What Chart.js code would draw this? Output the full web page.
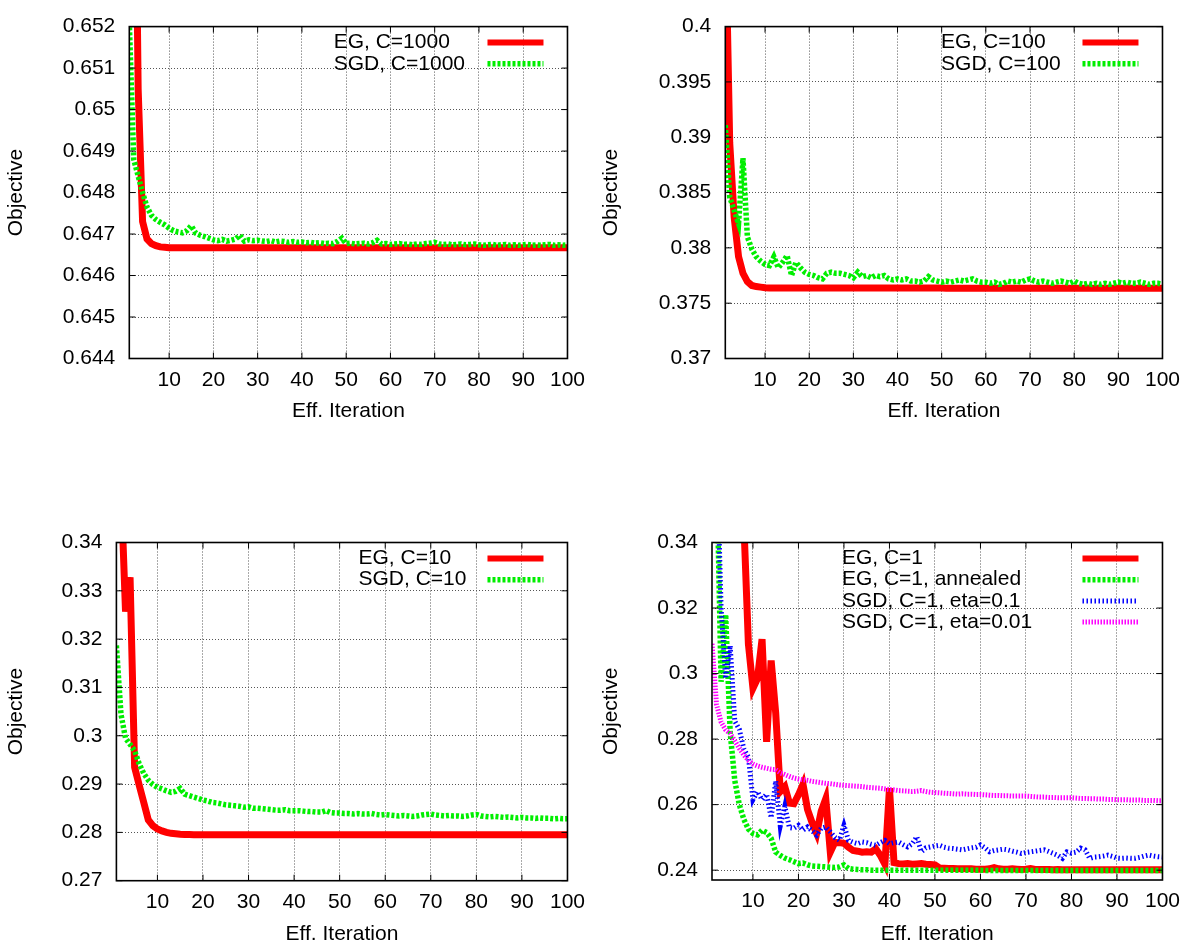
<!DOCTYPE html>
<html>
<head>
<meta charset="utf-8">
<script src="https://cdn.jsdelivr.net/npm/chart.js@4.4.1/dist/chart.umd.min.js"></script>
<style>
  html, body { margin: 0; padding: 0; background: #fff; overflow: hidden; width: 1189px; height: 944px; }
  canvas { position: absolute; }
</style>
</head>
<body>
<canvas id="c1"></canvas>
<canvas id="c2"></canvas>
<canvas id="c3"></canvas>
<canvas id="c4"></canvas>
<script>
// ---------- data ----------
const iters = [1,2,3,4,5,6,7,8,9,10,11,12,13,14,15,16,17,18,19,20,21,22,23,24,25,26,27,28,29,30,
  31,32,33,34,35,36,37,38,39,40,41,42,43,44,45,46,47,48,49,50,51,52,53,54,55,56,57,58,59,60,
  61,62,63,64,65,66,67,68,69,70,71,72,73,74,75,76,77,78,79,80,81,82,83,84,85,86,87,88,89,90,
  91,92,93,94,95,96,97,98,99,100];
const xTicks = [10,20,30,40,50,60,70,80,90,100];
const xTickLabels = ['10','20','30','40','50','60','70','80','90','100'];

// C=1000
const egC1000 = [
  null,0.6600,0.6505,0.6473,0.64688,0.64677,0.64672,0.64669,0.64668,0.64667,
  0.64667,0.64667,0.64667,0.64667,0.64667,0.64667,0.64667,0.64667,0.64667,0.64667,
  0.64667,0.64667,0.64667,0.64667,0.64667,0.64667,0.64667,0.64667,0.64667,0.64667,
  0.64667,0.64667,0.64667,0.64667,0.64667,0.64667,0.64667,0.64667,0.64667,0.64667,
  0.64667,0.64667,0.64667,0.64667,0.64667,0.64667,0.64667,0.64667,0.64667,0.64667,
  0.64667,0.64667,0.64667,0.64667,0.64667,0.64667,0.64667,0.64667,0.64667,0.64667,
  0.64667,0.64667,0.64667,0.64667,0.64667,0.64667,0.64667,0.64667,0.64667,0.64667,
  0.64667,0.64667,0.64667,0.64667,0.64667,0.64667,0.64667,0.64667,0.64667,0.64667,
  0.64667,0.64667,0.64667,0.64667,0.64667,0.64667,0.64667,0.64667,0.64667,0.64667,
  0.64667,0.64667,0.64667,0.64667,0.64667,0.64667,0.64667,0.64667,0.64667,0.64667];
const sgdC1000 = [
  0.6521,0.6488,0.6484,0.6480,0.64765,0.64745,0.64735,0.64728,0.64722,0.64714,
  0.64708,0.64705,0.64703,0.64708,0.64720,0.64702,0.64697,0.64694,0.64690,0.64686,
  0.64684,0.64687,0.64683,0.64685,0.64688,0.64697,0.64683,0.64686,0.64684,0.64685,
  0.64683,0.64682,0.64684,0.64681,0.64683,0.64682,0.64680,0.64682,0.64680,0.64681,
  0.64679,0.64680,0.64678,0.64679,0.64677,0.64678,0.64677,0.64682,0.64690,0.64677,
  0.64678,0.64676,0.64677,0.64678,0.64676,0.64679,0.64685,0.64676,0.64677,0.64675,
  0.64676,0.64677,0.64675,0.64676,0.64674,0.64676,0.64675,0.64677,0.64678,0.64680,
  0.64676,0.64675,0.64676,0.64674,0.64675,0.64676,0.64674,0.64675,0.64676,0.64674,
  0.64673,0.64674,0.64675,0.64673,0.64674,0.64675,0.64673,0.64674,0.64673,0.64674,
  0.64675,0.64673,0.64674,0.64673,0.64674,0.64675,0.64673,0.64674,0.64673,0.64674];
const yTicksC1000 = [0.644,0.645,0.646,0.647,0.648,0.649,0.650,0.651,0.652];
const yLabelsC1000 = ['0.644','0.645','0.646','0.647','0.648','0.649','0.65','0.651','0.652'];

// C=100
const egC100 = [
  0.4100,0.3895,0.3828,0.3792,0.3777,0.37695,0.37660,0.37650,0.37645,0.37640,
  0.37638,0.37637,0.37637,0.37637,0.37637,0.37637,0.37637,0.37637,0.37637,0.37637,
  0.37637,0.37637,0.37637,0.37637,0.37637,0.37637,0.37637,0.37637,0.37637,0.37637,
  0.37637,0.37637,0.37637,0.37637,0.37637,0.37637,0.37637,0.37637,0.37637,0.37637,
  0.37637,0.37637,0.37637,0.37637,0.37637,0.37637,0.37637,0.37637,0.37637,0.37637,
  0.37636,0.37636,0.37636,0.37636,0.37636,0.37636,0.37636,0.37636,0.37636,0.37636,
  0.37636,0.37636,0.37636,0.37636,0.37636,0.37636,0.37636,0.37636,0.37636,0.37636,
  0.37636,0.37636,0.37636,0.37636,0.37636,0.37636,0.37636,0.37636,0.37636,0.37636,
  0.37636,0.37636,0.37636,0.37636,0.37636,0.37636,0.37636,0.37636,0.37636,0.37636,
  0.37636,0.37636,0.37636,0.37636,0.37636,0.37636,0.37636,0.37636,0.37636,0.37636];
const sgdC100 = [
  0.3911,0.3846,0.3834,0.3822,0.3881,0.3810,0.3799,0.3792,0.3788,0.3785,
  0.3784,0.3792,0.3782,0.3787,0.3793,0.3775,0.3787,0.3782,0.3778,0.3776,
  0.3775,0.3773,0.3772,0.3777,0.3778,0.3777,0.3777,0.3776,0.3775,0.3773,
  0.3778,0.3774,0.3775,0.3773,0.3775,0.3774,0.3775,0.3772,0.3771,0.3772,
  0.3771,0.3772,0.3770,0.3770,0.3769,0.3770,0.3774,0.3771,0.3770,0.3769,
  0.3770,0.3769,0.3770,0.3771,0.3770,0.3771,0.3772,0.3770,0.3769,0.3769,
  0.3768,0.3769,0.3767,0.3768,0.3770,0.3769,0.3770,0.3769,0.3771,0.3772,
  0.3770,0.3769,0.3770,0.3769,0.3768,0.3769,0.3770,0.3769,0.3768,0.3770,
  0.3768,0.3767,0.3768,0.3767,0.3768,0.3767,0.3768,0.3767,0.3768,0.3769,
  0.3768,0.3769,0.3768,0.3768,0.3769,0.3768,0.3767,0.3768,0.3768,0.3767];
const yTicksC100 = [0.370,0.375,0.380,0.385,0.390,0.395,0.400];
const yLabelsC100 = ['0.37','0.375','0.38','0.385','0.39','0.395','0.4'];

// C=10
const egC10 = [
  null,0.3520,0.3257,0.3328,0.2935,0.2898,0.2862,0.2826,0.2814,0.2807,
  0.2803,0.2800,0.2798,0.2797,0.2796,0.27957,0.27955,0.27953,0.27952,0.27951,
  0.2795,0.2795,0.2795,0.2795,0.2795,0.2795,0.2795,0.2795,0.2795,0.2795,
  0.2795,0.2795,0.2795,0.2795,0.2795,0.2795,0.2795,0.2795,0.2795,0.2795,
  0.2795,0.2795,0.2795,0.2795,0.2795,0.2795,0.2795,0.2795,0.2795,0.2795,
  0.2795,0.2795,0.2795,0.2795,0.2795,0.2795,0.2795,0.2795,0.2795,0.2795,
  0.2795,0.2795,0.2795,0.2795,0.2795,0.2795,0.2795,0.2795,0.2795,0.2795,
  0.2795,0.2795,0.2795,0.2795,0.2795,0.2795,0.2795,0.2795,0.2795,0.2795,
  0.2795,0.2795,0.2795,0.2795,0.2795,0.2795,0.2795,0.2795,0.2795,0.2795,
  0.2795,0.2795,0.2795,0.2795,0.2795,0.2795,0.2795,0.2795,0.2795,0.2795];
const sgdC10 = [
  0.3187,0.3045,0.2995,0.2982,0.2969,0.2942,0.2922,0.2908,0.2899,0.2893,
  0.2890,0.2886,0.2883,0.2885,0.2891,0.2879,0.2876,0.2873,0.2870,0.2867,
  0.2865,0.2862,0.2861,0.2859,0.2857,0.2856,0.2855,0.2854,0.2852,0.2853,
  0.2850,0.2850,0.2849,0.2848,0.2847,0.2846,0.2846,0.2847,0.2845,0.2845,
  0.2845,0.2844,0.2843,0.2843,0.2842,0.2842,0.2845,0.2841,0.2840,0.2840,
  0.2839,0.2839,0.2838,0.2839,0.2838,0.2838,0.2839,0.2837,0.2836,0.2837,
  0.2836,0.2835,0.2834,0.2835,0.2834,0.2833,0.2834,0.2836,0.2837,0.2838,
  0.2836,0.2835,0.2834,0.2835,0.2834,0.2834,0.2833,0.2834,0.2836,0.2837,
  0.2834,0.2833,0.2832,0.2833,0.2832,0.2831,0.2832,0.2831,0.2830,0.2831,
  0.2830,0.2830,0.2829,0.2830,0.2829,0.2829,0.2828,0.2829,0.2828,0.2828];
const yTicksC10 = [0.27,0.28,0.29,0.30,0.31,0.32,0.33,0.34];
const yLabelsC10 = ['0.27','0.28','0.29','0.3','0.31','0.32','0.33','0.34'];

// C=1
const egC1 = [
  null,null,null,null,null,null,null,0.3460,0.3090,0.2955,
  0.2985,0.3105,0.2792,0.3040,0.2880,0.2640,0.2655,0.2605,0.2603,0.2630,
  0.2662,0.2585,0.2545,0.2512,0.2580,0.2618,0.2455,0.2485,0.2484,0.2482,
  0.2470,0.2460,0.2458,0.2455,0.2456,0.2455,0.2465,0.2445,0.2418,0.2650,
  0.2423,0.2420,0.2419,0.2420,0.2418,0.2419,0.2420,0.2418,0.2417,0.2416,
  0.2407,0.2406,0.2405,0.2405,0.2404,0.2404,0.2404,0.2404,0.2403,0.2403,
  0.2403,0.2404,0.2408,0.2404,0.2403,0.2403,0.2404,0.2403,0.2402,0.2403,
  0.2405,0.2402,0.2402,0.2402,0.2402,0.2401,0.2402,0.2401,0.2401,0.2401,
  0.2401,0.2401,0.2401,0.2401,0.2401,0.2401,0.2401,0.2401,0.2401,0.2401,
  0.2401,0.2401,0.2401,0.2401,0.2401,0.2401,0.2401,0.2401,0.2401,0.2401];
const egC1Annealed = [
  null,0.3650,0.2975,0.3180,0.2820,0.2674,0.2600,0.2555,0.2525,0.2512,
  0.2508,0.2522,0.2515,0.2497,0.2455,0.2445,0.2437,0.2432,0.2426,0.2420,
  0.2422,0.2416,0.2413,0.2412,0.2411,0.2410,0.2409,0.2408,0.2410,0.2416,
  0.2405,0.2403,0.2402,0.2401,0.2401,0.2400,0.2400,0.2400,0.2400,0.2400,
  0.2400,0.2400,0.2400,0.2400,0.2400,0.2400,0.2400,0.2400,0.2400,0.2400,
  0.2400,0.2400,0.2400,0.2400,0.2400,0.2400,0.2400,0.2400,0.2400,0.2400,
  0.2399,0.2399,0.2399,0.2399,0.2399,0.2399,0.2399,0.2399,0.2399,0.2399,
  0.2399,0.2399,0.2399,0.2399,0.2399,0.2399,0.2399,0.2399,0.2399,0.2399,
  0.2399,0.2399,0.2399,0.2399,0.2399,0.2399,0.2399,0.2399,0.2399,0.2399,
  0.2399,0.2399,0.2399,0.2399,0.2399,0.2399,0.2399,0.2399,0.2399,0.2399];
const sgdC1Eta01 = [
  null,0.3700,0.3200,0.2985,0.3085,0.2855,0.2830,0.2770,0.2745,0.2615,
  0.2640,0.2615,0.2632,0.2560,0.2672,0.2535,0.2595,0.2530,0.2528,0.2537,
  0.2522,0.2532,0.2520,0.2507,0.2528,0.2532,0.2517,0.2500,0.2491,0.2537,
  0.2491,0.2485,0.2481,0.2486,0.2484,0.2479,0.2476,0.2484,0.2491,0.2481,
  0.2484,0.2486,0.2478,0.2471,0.2480,0.2502,0.2456,0.2468,0.2471,0.2474,
  0.2476,0.2470,0.2467,0.2466,0.2464,0.2462,0.2465,0.2468,0.2470,0.2477,
  0.2468,0.2456,0.2460,0.2462,0.2464,0.2462,0.2458,0.2455,0.2451,0.2454,
  0.2456,0.2458,0.2460,0.2462,0.2457,0.2451,0.2445,0.2436,0.2456,0.2452,
  0.2455,0.2467,0.2462,0.2436,0.2440,0.2441,0.2443,0.2446,0.2442,0.2437,
  0.2436,0.2437,0.2436,0.2436,0.2439,0.2443,0.2446,0.2443,0.2441,0.2440];
const sgdC1Eta001 = [
  0.3091,0.2905,0.2852,0.2828,0.2817,0.2795,0.2772,0.2752,0.2735,0.2724,
  0.2718,0.2714,0.2711,0.2708,0.2707,0.2697,0.2692,0.2686,0.2681,0.2678,
  0.2676,0.2674,0.2671,0.2669,0.2667,0.2665,0.2664,0.2662,0.2660,0.2659,
  0.2658,0.2657,0.2656,0.2655,0.2653,0.2652,0.2651,0.2650,0.2648,0.2646,
  0.2645,0.2643,0.2642,0.2641,0.2640,0.2641,0.2643,0.2640,0.2638,0.2637,
  0.2636,0.2635,0.2634,0.2633,0.2632,0.2633,0.2632,0.2632,0.2631,0.2631,
  0.2630,0.2629,0.2628,0.2628,0.2627,0.2627,0.2626,0.2626,0.2626,0.2626,
  0.2625,0.2624,0.2623,0.2623,0.2622,0.2622,0.2621,0.2621,0.2621,0.2621,
  0.2620,0.2619,0.2619,0.2618,0.2618,0.2617,0.2617,0.2616,0.2616,0.2615,
  0.2615,0.2615,0.2614,0.2614,0.2614,0.2613,0.2613,0.2613,0.2612,0.2612];
const yTicksC1 = [0.24,0.26,0.28,0.30,0.32,0.34];
const yLabelsC1 = ['0.24','0.26','0.28','0.3','0.32','0.34'];

// ---------- styling ----------
const FONT = { family: '"Liberation Sans", Arial, Helvetica, sans-serif', size: 21 };
const FONT_CSS = '21px "Liberation Sans", Arial, Helvetica, sans-serif';
const STY = {
  red:     { color: '#ff0000', width: 7,   dash: [],         order: 4 },
  green:   { color: '#00ee00', width: 5.5, dash: [3, 2],     order: 3 },
  blue:    { color: '#0000ff', width: 5,   dash: [1.5, 2.5], order: 2 },
  magenta: { color: '#ff00ff', width: 5,   dash: [1.5, 1.5], order: 1 }
};

const pts = ys => iters.map((x, i) => ({ x: x, y: ys[i] }));

const gnuplotLook = {
  id: 'gnuplotLook',
  afterDatasetsDraw(chart) {
    const { ctx, chartArea: a, scales } = chart;
    const sx = scales.x, sy = scales.y;
    ctx.save();
    ctx.setLineDash([]);
    ctx.strokeStyle = '#000';
    ctx.lineWidth = 1;
    ctx.beginPath();
    sx.ticks.forEach(t => {
      const px = sx.getPixelForValue(t.value);
      ctx.moveTo(px, a.bottom); ctx.lineTo(px, a.bottom - 6);
      ctx.moveTo(px, a.top); ctx.lineTo(px, a.top + 6);
    });
    sy.ticks.forEach(t => {
      const py = sy.getPixelForValue(t.value);
      ctx.moveTo(a.left, py); ctx.lineTo(a.left + 6, py);
      ctx.moveTo(a.right, py); ctx.lineTo(a.right - 6, py);
    });
    ctx.stroke();
    ctx.lineWidth = 1.6;
    ctx.strokeRect(a.left, a.top, a.right - a.left, a.bottom - a.top);

    // key
    const ds = chart.data.datasets;
    const maxChars = Math.max.apply(null, ds.map(d => d.label.length));
    const sampleRight = a.right - 24, sampleLeft = sampleRight - 56;
    const textX = sampleLeft - (maxChars * 12.4 + 17.4);
    ctx.font = FONT_CSS;
    ctx.textBaseline = 'middle';
    ctx.textAlign = 'left';
    ds.forEach((d, i) => {
      const yy = a.top + 16 + i * 21.2;
      ctx.fillStyle = '#000';
      ctx.fillText(d.label, textX, yy);
      ctx.strokeStyle = d.borderColor;
      ctx.lineWidth = Math.min(d.borderWidth, 6);
      ctx.lineCap = 'butt';
      ctx.setLineDash(d.borderDash || []);
      ctx.beginPath();
      ctx.moveTo(sampleLeft, yy); ctx.lineTo(sampleRight, yy);
      ctx.stroke();
    });
    ctx.restore();
  }
};

function makeChart(id, g, yMin, yMax, yTicks, yLabels, series) {
  const cv = document.getElementById(id);
  cv.width = g.cw; cv.height = g.ch;
  cv.style.left = g.cx + 'px'; cv.style.top = g.cy + 'px';
  const gridOpts = { color: '#555', lineWidth: 1, drawTicks: false };
  const borderOpts = { display: false, dash: [1, 2] };
  return new Chart(cv, {
    type: 'line',
    data: {
      datasets: series.map(s => ({
        label: s.label,
        data: pts(s.values),
        borderColor: s.style.color,
        borderWidth: s.style.width,
        borderDash: s.style.dash,
        order: s.style.order,
        pointRadius: 0,
        tension: 0,
        fill: false,
        clip: 0,
        borderJoinStyle: 'miter',
        borderCapStyle: 'butt',
        spanGaps: false
      }))
    },
    options: {
      responsive: false,
      animation: false,
      devicePixelRatio: 1,
      layout: { padding: { top: g.T - g.cy, right: g.cx + g.cw - g.R, left: 0, bottom: 0 } },
      plugins: { legend: { display: false }, tooltip: { enabled: false } },
      scales: {
        x: {
          type: 'linear', min: 1, max: 100,
          afterFit: s => { s.height = g.cy + g.ch - g.B; },
          afterBuildTicks: s => { s.ticks = xTicks.map(v => ({ value: v })); },
          ticks: { callback: (v, i) => xTickLabels[i], padding: 9, color: '#000', font: FONT, maxRotation: 0, autoSkip: false },
          grid: gridOpts, border: borderOpts,
          title: { display: true, text: 'Eff. Iteration', color: '#000', font: FONT, padding: { top: 0, bottom: g.xtp } }
        },
        y: {
          type: 'linear', min: yMin, max: yMax,
          afterFit: s => { s.width = g.L - g.cx; },
          afterBuildTicks: s => { s.ticks = yTicks.map(v => ({ value: v })); },
          ticks: { callback: (v, i) => yLabels[i], padding: 14, color: '#000', font: FONT, autoSkip: false },
          grid: gridOpts, border: borderOpts,
          title: { display: true, text: 'Objective', color: '#000', font: FONT, padding: { top: g.ytp, bottom: 0 } }
        }
      }
    },
    plugins: [gnuplotLook]
  });
}

makeChart('c1', { cx: 0, cy: 0, cw: 594, ch: 470, L: 129.3, R: 569, T: 20, B: 358.5, xtp: 45.9, ytp: 4 },
  0.644, 0.652, yTicksC1000, yLabelsC1000, [
    { label: 'EG, C=1000', values: egC1000, style: STY.red },
    { label: 'SGD, C=1000', values: sgdC1000, style: STY.green }
  ]);
makeChart('c2', { cx: 594, cy: 0, cw: 595, ch: 470, L: 725.3, R: 1165.5, T: 20, B: 358.5, xtp: 45.9, ytp: 5 },
  0.37, 0.40, yTicksC100, yLabelsC100, [
    { label: 'EG, C=100', values: egC100, style: STY.red },
    { label: 'SGD, C=100', values: sgdC100, style: STY.green }
  ]);
makeChart('c3', { cx: 0, cy: 470, cw: 594, ch: 474, L: 116.4, R: 571, T: 542.5, B: 880.7, xtp: -2.6, ytp: 4 },
  0.27, 0.34, yTicksC10, yLabelsC10, [
    { label: 'EG, C=10', values: egC10, style: STY.red },
    { label: 'SGD, C=10', values: sgdC10, style: STY.green }
  ]);
makeChart('c4', { cx: 594, cy: 470, cw: 595, ch: 474, L: 712, R: 1166, T: 542.5, B: 880, xtp: -2.6, ytp: 5 },
  0.2370, 0.34, yTicksC1, yLabelsC1, [
    { label: 'EG, C=1', values: egC1, style: STY.red },
    { label: 'EG, C=1, annealed', values: egC1Annealed, style: STY.green },
    { label: 'SGD, C=1, eta=0.1', values: sgdC1Eta01, style: STY.blue },
    { label: 'SGD, C=1, eta=0.01', values: sgdC1Eta001, style: STY.magenta }
  ]);
</script>
</body>
</html>
